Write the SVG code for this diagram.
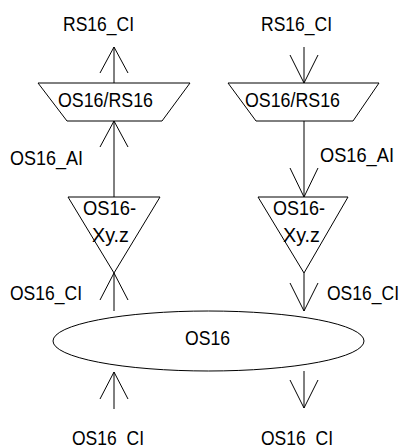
<svg xmlns="http://www.w3.org/2000/svg" width="402" height="446" viewBox="0 0 402 446">
<style>
.s{fill:none;stroke:#000;stroke-width:1}
.n{fill:#fff;stroke:#000;stroke-width:1}
text{font-family:"Liberation Sans",Arial,sans-serif;font-size:21px;fill:#000}
</style>
<rect width="402" height="446" fill="#fff"/>
<g id="connectors" class="s">
<path d="M114,83V47M100,73L114,47L128,73"/>
<path d="M114,197V121M100,147L114,121L128,147"/>
<path d="M114,311V273M100,300L114,273L128,300"/>
<path d="M114,409V372M100,399L114,372L128,399"/>
<path d="M304,47V83M290,55L304,83L318,55"/>
<path d="M304,121V197M290,168L304,197L318,168"/>
<path d="M304,273V311M290,283L304,311L318,283"/>
<path d="M304,371V408M290,380L304,408L318,380"/>
</g>
<g id="labels">
<text x="63" y="31" textLength="71" lengthAdjust="spacingAndGlyphs">RS16_CI</text>
<text x="261" y="31" textLength="71" lengthAdjust="spacingAndGlyphs">RS16_CI</text>
<text x="10" y="165" textLength="73" lengthAdjust="spacingAndGlyphs">OS16_AI</text>
<text x="320" y="162" textLength="74" lengthAdjust="spacingAndGlyphs">OS16_AI</text>
<text x="10" y="300" textLength="72" lengthAdjust="spacingAndGlyphs">OS16_CI</text>
<text x="327" y="300" textLength="72" lengthAdjust="spacingAndGlyphs">OS16_CI</text>
<text x="72" y="445" textLength="72" lengthAdjust="spacingAndGlyphs">OS16_CI</text>
<text x="261" y="445" textLength="72" lengthAdjust="spacingAndGlyphs">OS16_CI</text>
</g>
<g id="trap-left">
<path class="n" d="M38,83H190L162,121H67Z"/>
<text x="58" y="107" textLength="95" lengthAdjust="spacingAndGlyphs">OS16/RS16</text>
</g>
<g id="trap-right">
<path class="n" d="M228,83H379L353,121H256Z"/>
<text x="245" y="107" textLength="95" lengthAdjust="spacingAndGlyphs">OS16/RS16</text>
</g>
<g id="tri-left">
<path class="n" d="M68,197H160L114,273Z"/>
<text x="83" y="215" textLength="53" lengthAdjust="spacingAndGlyphs">OS16-</text>
<text x="92" y="242" textLength="37" lengthAdjust="spacingAndGlyphs">Xy.z</text>
</g>
<g id="tri-right">
<path class="n" d="M258,197H348L304,273Z"/>
<text x="273" y="215" textLength="52" lengthAdjust="spacingAndGlyphs">OS16-</text>
<text x="283" y="242" textLength="37" lengthAdjust="spacingAndGlyphs">Xy.z</text>
</g>
<g id="ellipse">
<ellipse class="n" cx="208.5" cy="341" rx="155.5" ry="30"/>
<text x="185" y="345" textLength="45" lengthAdjust="spacingAndGlyphs">OS16</text>
</g>
</svg>
